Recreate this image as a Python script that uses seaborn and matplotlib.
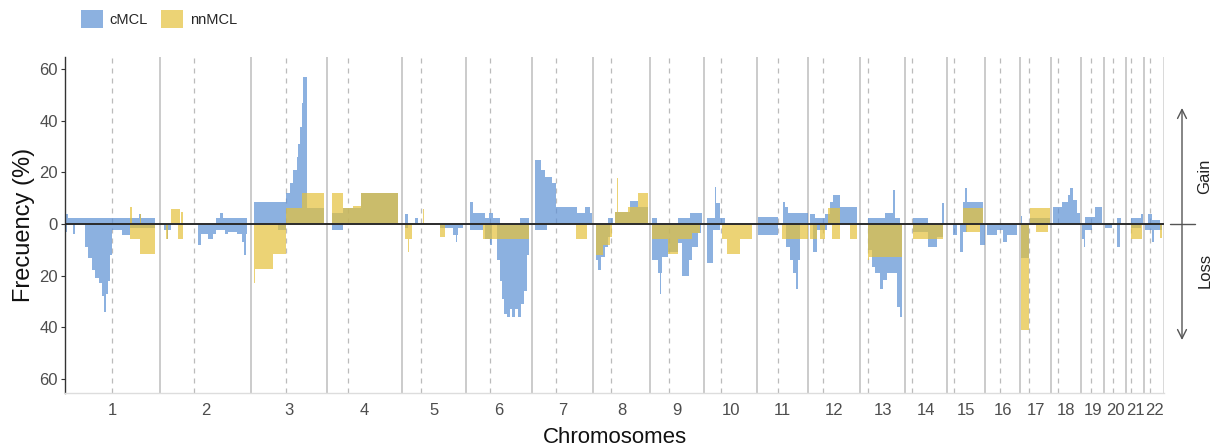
import numpy as np
import pandas as pd
import matplotlib
matplotlib.use("Agg")
import matplotlib.pyplot as plt
from matplotlib.patches import Patch
from matplotlib.lines import Line2D
import seaborn as sns

# ---------------- data ----------------
chrom_names = [str(i) for i in range(1, 23)]
chrom_len = [249, 239, 199, 197, 168, 173, 160, 149, 142, 139, 134, 136,
             118, 110, 100, 92, 81, 79, 60, 58, 47, 52]          # Mb
centromere = [122, 90, 92, 55, 49, 63, 62, 48, 50, 44, 55, 38,
              22, 19, 18, 39, 24, 18, 26, 24, 12, 14]            # Mb

# (chromosome, start Mb, end Mb, frequency %)
cmcl_gain = [
    (1, 3, 8, 4.0), (1, 8, 194, 2.2), (1, 194, 198, 4.0), (1, 198, 236, 2.2),
    (2, 148, 157, 2.2), (2, 157, 166, 4.4), (2, 166, 227, 2.2),
    (3, 8, 92, 8.6), (3, 92, 102, 12), (3, 102, 111, 15.7), (3, 111, 120, 21), (3, 120, 124, 26),
    (3, 124, 129, 31), (3, 129, 133, 37.6), (3, 133, 137, 46.7), (3, 137, 146, 56.7), (3, 146, 191, 6),
    (4, 13, 42, 4.4), (4, 42, 89, 6), (4, 89, 186, 12),
    (5, 8, 16, 4), (5, 34, 42, 2.2),
    (6, 10, 18, 8.6), (6, 18, 50, 4.4), (6, 50, 60, 2.2), (6, 60, 71, 4.4), (6, 71, 89, 2.2), (6, 141, 165, 2.2),
    (7, 8, 24, 24.8), (7, 24, 34, 20.9), (7, 34, 52, 18.3), (7, 52, 63, 15.7), (7, 63, 118, 6.7),
    (7, 118, 139, 4.1), (7, 139, 152, 6.7), (7, 152, 157, 4.1),
    (8, 39, 52, 2.2), (8, 58, 97, 4.5), (8, 97, 118, 9), (8, 118, 144, 6.7),
    (9, 5, 18, 2.2), (9, 73, 105, 2.2), (9, 105, 136, 4.4),
    (10, 8, 29, 2.2), (10, 29, 31, 14.4), (10, 31, 42, 8), (10, 42, 55, 2.2),
    (11, 3, 55, 2.6), (11, 68, 73, 8.6), (11, 73, 81, 6.7), (11, 81, 133, 4.4),
    (12, 5, 18, 4), (12, 18, 45, 2.2), (12, 45, 58, 4), (12, 58, 66, 8.6), (12, 66, 84, 11.2), (12, 84, 128, 6.7),
    (13, 21, 65, 2.2), (13, 65, 86, 4.4), (13, 86, 92, 13), (13, 92, 105, 2.2),
    (14, 21, 60, 2.2), (14, 97, 102, 8),
    (15, 42, 47, 8.6), (15, 47, 52, 14), (15, 52, 94, 8.6),
    (17, 3, 5, 3), (17, 26, 79, 2.2),
    (18, 5, 29, 6.7), (18, 29, 45, 8.6), (18, 45, 50, 11.2), (18, 50, 58, 13.8), (18, 58, 68, 9.3), (18, 68, 76, 4.4),
    (19, 10, 37, 2.8), (19, 37, 55, 6.7),
    (20, 34, 45, 2.2),
    (21, 13, 39, 2.2), (21, 39, 45, 4),
    (22, 10, 21, 4), (22, 21, 42, 1.5),
]

cmcl_loss = [
    (1, 3, 5, 3), (1, 21, 26, 4), (1, 52, 60, 9), (1, 60, 71, 13), (1, 71, 79, 18), (1, 79, 89, 21),
    (1, 89, 97, 23), (1, 97, 102, 28), (1, 102, 107, 34), (1, 107, 113, 27), (1, 113, 118, 22),
    (1, 118, 123, 12), (1, 123, 149, 2.3), (1, 149, 170, 4.3), (1, 170, 236, 1.5),
    (2, 10, 18, 2.3), (2, 18, 21, 6), (2, 21, 29, 2.3), (2, 100, 107, 8), (2, 107, 126, 4), (2, 126, 139, 6),
    (2, 139, 147, 4), (2, 147, 170, 2.3), (2, 170, 178, 4), (2, 178, 202, 3), (2, 202, 215, 4),
    (2, 215, 220, 7), (2, 220, 225, 12), (2, 225, 228, 4),
    (3, 71, 92, 2.3),
    (4, 13, 42, 2.3),
    (5, 8, 16, 1.7), (5, 99, 134, 1.7), (5, 134, 142, 4.3), (5, 142, 144, 7), (5, 144, 147, 4.3), (5, 147, 160, 1.7),
    (6, 10, 45, 2.3), (6, 50, 63, 6), (6, 63, 68, 8), (6, 81, 89, 14), (6, 89, 94, 22), (6, 94, 100, 29),
    (6, 100, 107, 35), (6, 107, 115, 36), (6, 115, 121, 33), (6, 121, 128, 36), (6, 128, 136, 33),
    (6, 136, 144, 36), (6, 144, 152, 31), (6, 152, 160, 26), (6, 160, 165, 12),
    (7, 8, 39, 2.3),
    (8, 8, 13, 14), (8, 13, 21, 18), (8, 21, 31, 12.6), (8, 31, 39, 8.8), (8, 39, 45, 5),
    (9, 5, 21, 14), (9, 21, 26, 19), (9, 26, 29, 27), (9, 29, 31, 19), (9, 31, 47, 12.6), (9, 47, 73, 11),
    (9, 73, 84, 7.5), (9, 84, 102, 20), (9, 102, 110, 14), (9, 110, 126, 9), (9, 126, 134, 3.6),
    (10, 8, 24, 15), (10, 24, 42, 2.3),
    (11, 3, 55, 4.3), (11, 76, 86, 9), (11, 86, 94, 14), (11, 94, 102, 19), (11, 102, 107, 25), (11, 107, 113, 14),
    (12, 13, 24, 10.7), (12, 24, 50, 2.3),
    (13, 21, 31, 10), (13, 31, 39, 16.5), (13, 39, 52, 19), (13, 52, 60, 25), (13, 60, 71, 21.6),
    (13, 71, 97, 19), (13, 97, 105, 32), (13, 105, 110, 36),
    (14, 21, 60, 3), (14, 60, 84, 8.8), (14, 84, 100, 5),
    (15, 16, 26, 4.3), (15, 34, 42, 10.7), (15, 42, 52, 3), (15, 86, 100, 8),
    (16, 5, 31, 4.3), (16, 31, 47, 2.3), (16, 47, 58, 7), (16, 58, 84, 4.3),
    (17, 3, 24, 13),
    (19, 3, 8, 6), (19, 8, 10, 9), (19, 10, 29, 2.3),
    (20, 3, 21, 1.7), (20, 34, 42, 8.8),
    (21, 13, 39, 1.5),
    (22, 3, 21, 2.3), (22, 21, 26, 7), (22, 26, 47, 2.3),
]

nnmcl_gain = [
    (1, 170, 176, 6.5), (1, 196, 199, 4),
    (2, 29, 52, 5.8), (2, 55, 60, 4.5),
    (3, 92, 134, 6), (3, 134, 191, 12),
    (4, 13, 42, 12), (4, 42, 68, 6), (4, 68, 89, 7), (4, 89, 186, 12),
    (5, 55, 58, 5.6),
    (8, 58, 63, 4.8), (8, 63, 66, 17.6), (8, 66, 92, 4.8), (8, 92, 118, 6.7), (8, 118, 144, 12),
    (12, 52, 84, 6),
    (15, 42, 94, 6),
    (17, 26, 79, 6),
]

nnmcl_loss = [
    (1, 170, 196, 5.8), (1, 196, 236, 11.6),
    (2, 16, 21, 6), (2, 47, 60, 5.8),
    (3, 8, 10, 23), (3, 10, 58, 17.4), (3, 58, 92, 11.7),
    (5, 8, 16, 5.8), (5, 16, 18, 11), (5, 18, 26, 5.8), (5, 99, 113, 5),
    (6, 45, 165, 5.8),
    (7, 115, 144, 5.8),
    (8, 8, 26, 12), (8, 26, 45, 8), (8, 45, 50, 5),
    (9, 5, 47, 5.8), (9, 47, 73, 11.7), (9, 73, 110, 5.8), (9, 110, 131, 3.5),
    (10, 47, 60, 6), (10, 60, 94, 11.7), (10, 94, 126, 6),
    (11, 66, 134, 5.8),
    (12, 5, 24, 5.8), (12, 31, 45, 5.8), (12, 63, 84, 5.8), (12, 110, 128, 5.8),
    (13, 21, 24, 14), (13, 24, 110, 12.6),
    (14, 21, 100, 5.8),
    (15, 50, 86, 3),
    (17, 3, 24, 41), (17, 42, 73, 3),
    (21, 13, 42, 5.8),
    (22, 42, 47, 5.5),
]

groups = ["cMCL", "nnMCL"]
yticks = [-60, -40, -20, 0, 20, 40, 60]

# ---------------- helpers ----------------
offsets = np.concatenate([[0], np.cumsum(chrom_len)[:-1]])
genome_end = float(np.sum(chrom_len))


def to_steps(segs, sign):
    df = pd.DataFrame(segs, columns=["chrom", "start", "end", "pct"])
    df["gs"] = offsets[df["chrom"].values - 1] + df["start"]
    df["ge"] = offsets[df["chrom"].values - 1] + df["end"]
    df = df.sort_values("gs")
    xs, ys = [0.0], [0.0]
    prev = 0.0
    for gs, ge, p in zip(df["gs"], df["ge"], df["pct"]):
        if gs > prev:
            xs.append(prev)
            ys.append(0.0)
        xs.append(gs)
        ys.append(sign * p)
        prev = ge
    xs.append(prev)
    ys.append(0.0)
    xs.append(genome_end)
    ys.append(0.0)
    return np.array(xs), np.array(ys)


# ---------------- style ----------------
sns.set_theme(style="white")
plt.rcParams["font.family"] = ["Liberation Sans", "DejaVu Sans"]

blue = "#5C90D4"
yellow = "#E5C13A"
alpha = 0.7

fig = plt.figure(figsize=(12.15, 4.48), dpi=100)
ax = fig.add_axes([65 / 1215, 55 / 448, 1099 / 1215, 336 / 448])

for segs, sign, col in [(cmcl_gain, 1, blue), (cmcl_loss, -1, blue),
                        (nnmcl_gain, 1, yellow), (nnmcl_loss, -1, yellow)]:
    xs, ys = to_steps(segs, sign)
    ax.fill_between(xs, 0, ys, step="post", color=col, alpha=alpha, lw=0, zorder=2)

# chromosome boundaries and centromeres
for i in range(1, 22):
    ax.axvline(offsets[i], color="#BDBDBD", lw=1.1, zorder=1)
ax.axvline(genome_end, color="#D0D0D0", lw=1.1, zorder=1)
for i in range(22):
    ax.axvline(offsets[i] + centromere[i], color="#BBBBBB", lw=0.9,
               ls=(0, (4, 4)), zorder=1)

ax.axhline(0, color="#2B2B2B", lw=1.4, zorder=3)

ax.set_xlim(0, genome_end)
ax.set_ylim(-65.4, 64.6)
ax.set_yticks(yticks)
ax.set_yticklabels([str(abs(v)) for v in yticks])
centers = offsets + np.array(chrom_len) / 2
ax.set_xticks(centers)
ax.set_xticklabels(chrom_names)
ax.tick_params(axis="x", length=0, pad=7, labelsize=12, labelcolor="#4D4D4D")
ax.tick_params(axis="y", length=3, width=0.8, color="#333333", pad=2,
               labelsize=12, labelcolor="#4D4D4D", left=True)

ax.set_xlabel("Chromosomes", fontsize=16, color="#111111", labelpad=7)
ax.set_ylabel("Frecuency (%)", fontsize=17, color="#111111", labelpad=3)

sns.despine(ax=ax, top=True, right=True)
ax.spines["left"].set_color("#333333")
ax.spines["left"].set_linewidth(1.0)
ax.spines["bottom"].set_color("#DDDDDD")
ax.spines["bottom"].set_linewidth(1.0)
ax.grid(False)

# legend
handles = [Patch(facecolor=blue, alpha=alpha, edgecolor="none", label=groups[0]),
           Patch(facecolor=yellow, alpha=alpha, edgecolor="none", label=groups[1])]
fig.legend(handles=handles, loc="upper left", bbox_to_anchor=(0.058, 1.0),
           ncol=2, frameon=False, fontsize=10.5, handlelength=1.5, handleheight=1.5,
           handletextpad=0.5, columnspacing=0.9, borderaxespad=0.3)

# gain / loss side annotation
xa = 1182 / 1215
ax.annotate("", xy=(xa, 1 - 108 / 448), xytext=(xa, 1 - 340 / 448),
            xycoords="figure fraction", textcoords="figure fraction",
            arrowprops=dict(arrowstyle="<->", color="#555555", lw=1.0,
                            mutation_scale=16, shrinkA=0, shrinkB=0))
fig.add_artist(Line2D([1170 / 1215, 1195 / 1215], [0.5, 0.5], color="#555555", lw=1.0))
fig.text(1205 / 1215, 1 - 176 / 448, "Gain", rotation=90, ha="center", va="center",
         fontsize=12, color="#222222")
fig.text(1205 / 1215, 1 - 270 / 448, "Loss", rotation=90, ha="center", va="center",
         fontsize=12, color="#222222")

fig.savefig("out.png", dpi=100)
